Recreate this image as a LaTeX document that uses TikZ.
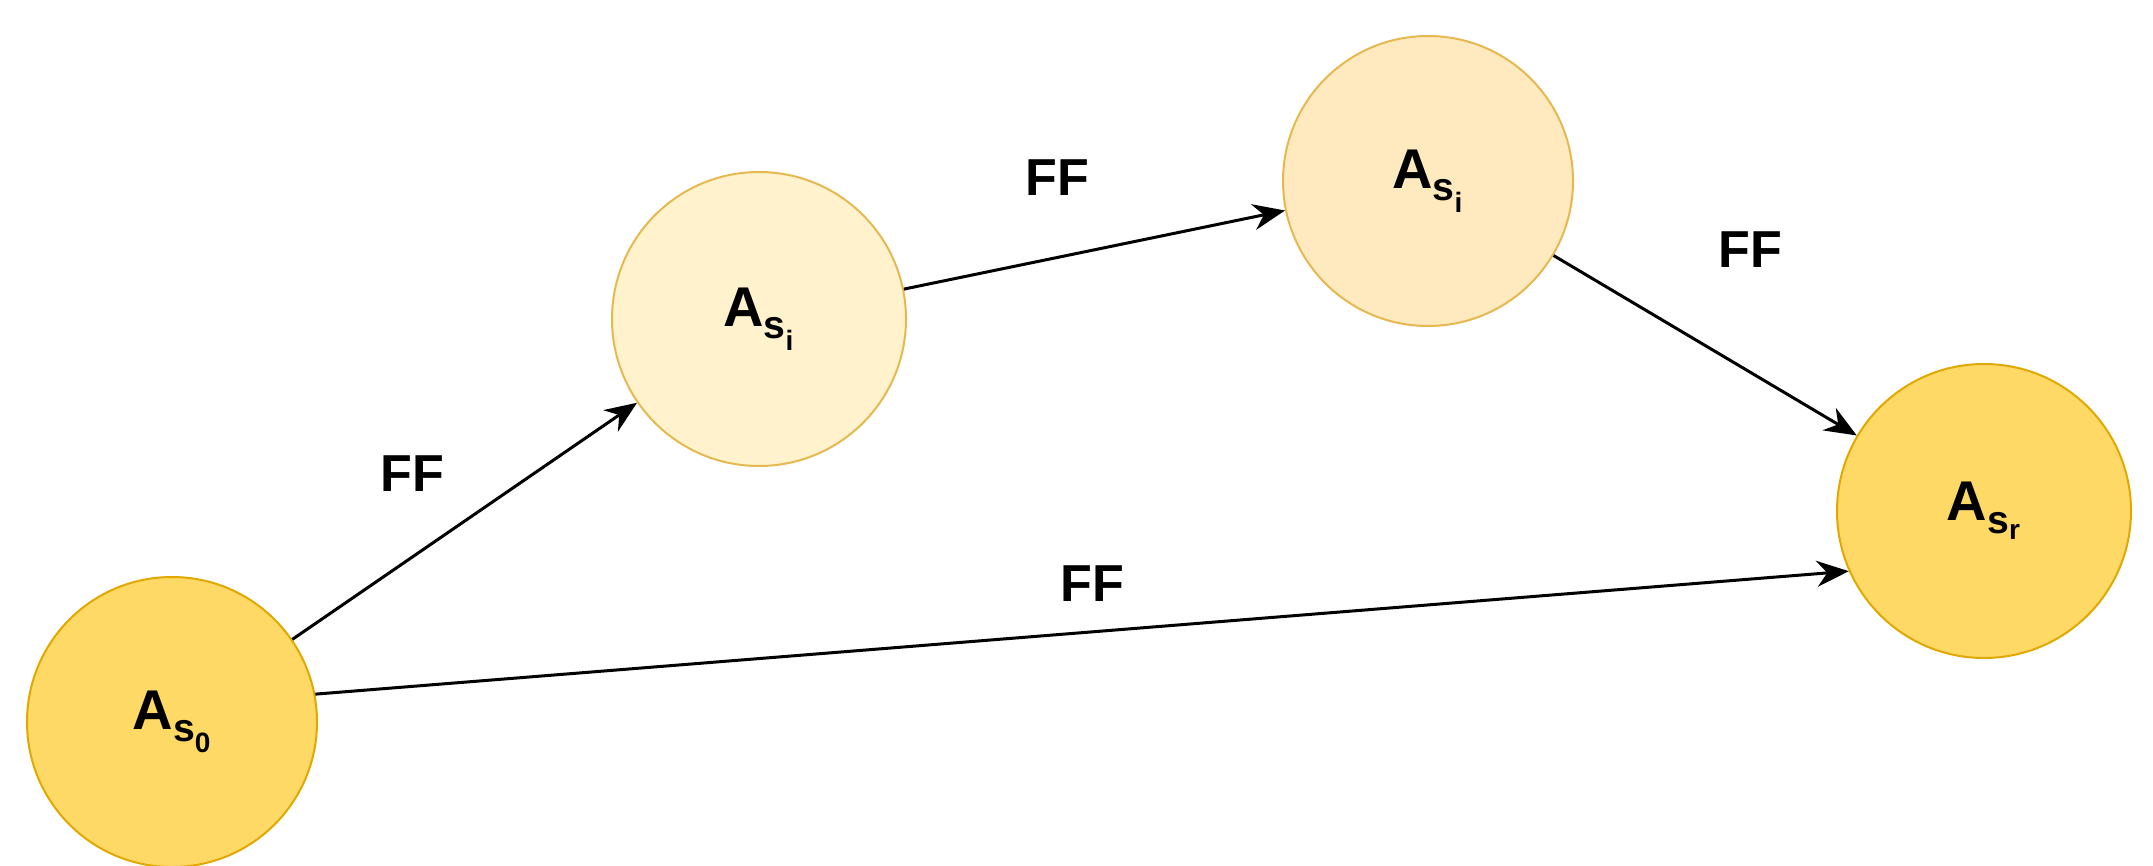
\documentclass[tikz,border=0pt]{standalone}
\usepackage{fontspec}
\setmainfont{Liberation Sans}
\usetikzlibrary{arrows.meta}
\definecolor{dk}{HTML}{FFD966}
\definecolor{lt}{HTML}{FFF2CC}
\definecolor{md}{HTML}{FFE9BF}
\definecolor{bd}{HTML}{E0A800}
\definecolor{bdl}{HTML}{E6B850}
\begin{document}
\begin{tikzpicture}[x=1pt,y=-1pt,
  st/.style={circle,minimum size=290pt,inner sep=0pt,line width=2pt,font=\fontsize{56}{66}\selectfont\bfseries},
  lbl/.style={font=\fontsize{52}{60}\selectfont\bfseries},
  arr/.style={-{Stealth[length=32pt,width=26pt]},line width=3pt}]
\useasboundingbox (0,0) rectangle (2153,866);
\node[st,fill=dk,draw=bd] (s0) at (172,722) {A$_{\mathbf{s}_{\mathbf{0}}}$};
\node[st,fill=lt,draw=bdl,minimum size=294pt] (s1) at (759,319) {A$_{\mathbf{s}_{\mathbf{i}}}$};
\node[st,fill=md,draw=bdl] (s2) at (1428,181) {A$_{\mathbf{s}_{\mathbf{i}}}$};
\node[st,fill=dk,draw=bd,minimum size=294pt] (sr) at (1984,511) {A$_{\mathbf{s}_{\mathbf{r}}}$};
\draw[arr] (s0) -- (s1);
\draw[arr] (s1) -- (s2);
\draw[arr] (s2) -- (sr);
\draw[arr] (s0.11) -- (sr.204);
\node[lbl] (l1) at (412,474) {FF};
\node[lbl] (l2) at (1057,178) {FF};
\node[lbl] (l3) at (1750,250) {FF};
\node[lbl] (l4) at (1092,584) {FF};
\end{tikzpicture}
\end{document}
